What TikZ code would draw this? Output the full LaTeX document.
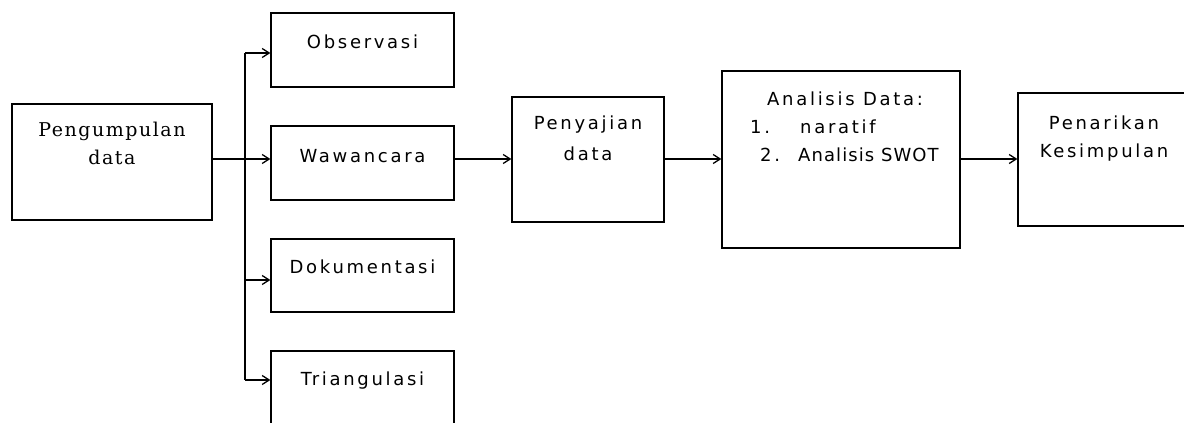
\documentclass[tikz,border=0pt]{standalone}
\usepackage{fontspec}
\setmainfont{DejaVu Sans}
\newfontfamily\boxfont[LetterSpace=15]{DejaVu Sans}
\newfontfamily\serfont[LetterSpace=8]{DejaVu Serif}
\usetikzlibrary{arrows.meta}

\tikzset{
  box/.style={draw, line width=1.3pt, rectangle, inner sep=0pt},
  txt/.style={anchor=base, align=center, inner sep=0pt,
    font=\boxfont\fontsize{18}{28}\selectfont},
  link/.style={line width=1.3pt},
}

\begin{document}
\begin{tikzpicture}[x=1pt,y=-1pt,>={Straight Barb[length=7pt,width=9pt]}]
    \clip (0,0) rectangle (1184,423);
    \fill[white] (0,0) rectangle (1184,423);

    % kotak utama
    \node[box, minimum width=200, minimum height=116] (kumpul) at (112,162) {};
    \node[box, minimum width=183, minimum height=74] (obs) at (362.5,50) {};
    \node[box, minimum width=183, minimum height=74] (waw) at (362.5,163) {};
    \node[box, minimum width=183, minimum height=73] (dok) at (362.5,275.5) {};
    \node[box, minimum width=183, minimum height=74] (tri) at (362.5,388) {};
    \node[box, minimum width=152, minimum height=125] (saji) at (588,159.5) {};
    \node[box, minimum width=238, minimum height=177] (anal) at (841,159.5) {};
    \node[box, minimum width=172, minimum height=133] (tarik) at (1104,159.5) {};

    % isi kotak (base = baris terakhir)
    \node[txt, font=\serfont\fontsize{19}{28}\selectfont] (tkumpul)
        at (kumpul.north |- 0,164) {Pengumpulan\\data};
    \node[txt] (tobs) at (obs.north |- 0,48) {Observasi};
    \node[txt] (twaw) at (waw.north |- 0,162) {Wawancara};
    \node[txt] (tdok) at (dok.north |- 0,273) {Dokumentasi};
    \node[txt] (ttri) at (tri.north |- 0,385) {Triangulasi};
    \node[txt, font=\boxfont\fontsize{18}{31}\selectfont] (tsaji)
        at (saji.north |- 0,160) {Penyajian\\data};
    \node[txt, align=left, anchor=base west] (tanal) at (750,161)
        {\hspace*{17pt}Analisis Data:\\
         \makebox[50pt][l]{1.}naratif\\
         \hspace*{10pt}\makebox[38pt][l]{2.}{\addfontfeature{LetterSpace=6}Analisis SWOT}};
    \node[txt] (ttarik) at (tarik.north |- 0,157) {Penarikan\\Kesimpulan};

    % percabangan
    \coordinate (fork) at (245,159);
    \coordinate (obsF) at (245,53);
    \coordinate (dokF) at (245,280);
    \coordinate (triF) at (245,380);

    \draw[link] (kumpul.east |- fork) -- (fork);
    \draw[link] (obsF) -- (triF);
    \draw[link,->] (obsF) -- (obs.west |- obsF);
    \draw[link,->] (fork) -- (waw.west |- fork);
    \draw[link,->] (dokF) -- (dok.west |- dokF);
    \draw[link,->] (triF) -- (tri.west |- triF);

    \draw[link,->] (waw.east |- fork) -- (saji.west |- fork);
    \draw[link,->] (saji.east |- fork) -- (anal.west |- fork);
    \draw[link,->] (anal.east |- fork) -- (tarik.west |- fork);
\end{tikzpicture}
\end{document}
